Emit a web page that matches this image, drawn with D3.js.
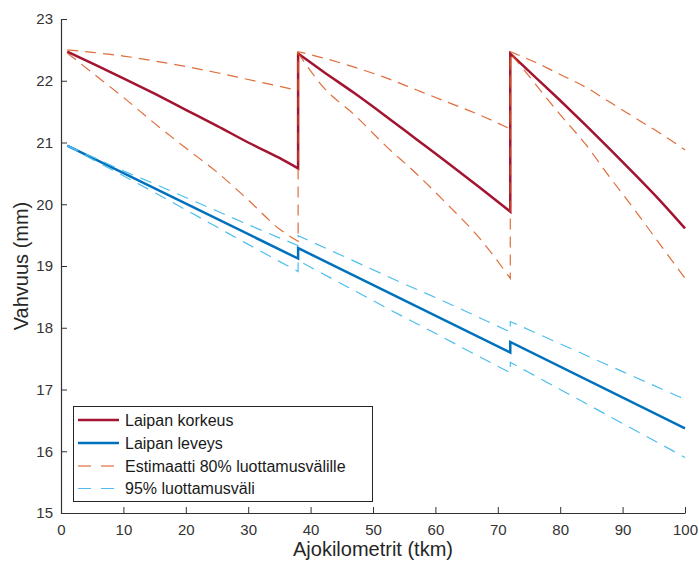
<!DOCTYPE html>
<html>
<head>
<meta charset="utf-8">
<script src="https://cdn.jsdelivr.net/npm/d3@7"></script>
<style>
  html, body { margin: 0; padding: 0; background: #fff; }
  svg { display: block; font-family: "Liberation Sans", Arial, Helvetica, sans-serif; }
</style>
</head>
<body>
<svg id="chart" width="699" height="562"></svg>
<script>
// ---- Data ----
// Laipan korkeus (solid dark red)
const kmKorkeus = [1, 5, 10, 15, 20, 25, 30, 35, 38, 38, 42, 47, 52, 57, 62, 67, 72, 72, 76, 80, 84, 88, 92, 96, 100];
const korkeus   = [22.47, 22.28, 22.04, 21.79, 21.53, 21.27, 21.00, 20.75, 20.58, 22.44, 22.15, 21.80, 21.43, 21.05, 20.67, 20.28, 19.88, 22.44, 22.06, 21.68, 21.29, 20.89, 20.48, 20.06, 19.61];

// Estimaatti 80% luottamusvälille (orange dashed, upper and lower)
const kmEst     = [1, 5, 10, 15, 20, 25, 30, 35, 38, 38, 42, 47, 52, 57, 62, 67, 72, 72, 76, 80, 84, 88, 92, 96, 100];
const estYla    = [22.50, 22.46, 22.40, 22.32, 22.23, 22.13, 22.02, 21.91, 21.84, 22.47, 22.37, 22.22, 22.05, 21.85, 21.65, 21.45, 21.22, 22.47, 22.30, 22.10, 21.90, 21.65, 21.40, 21.15, 20.88];
const estAla    = [22.45, 22.13, 21.73, 21.31, 20.91, 20.52, 20.07, 19.60, 19.40, 22.45, 21.90, 21.45, 20.95, 20.49, 19.99, 19.46, 18.80, 22.45, 21.95, 21.45, 20.98, 20.43, 19.90, 19.35, 18.80];

// Laipan leveys (solid blue)
const kmLeveys  = [1, 38, 38, 72, 72, 100];
const leveys    = [20.95, 19.12, 19.29, 17.60, 17.77, 16.37];

// 95% luottamusväli (light blue dashed, upper and lower)
const kmLuott   = [1, 5, 10, 15, 20, 25, 30, 38, 38, 45, 50, 55, 60, 65, 72, 72, 80, 90, 100];
const luottYla  = [20.95, 20.77, 20.54, 20.33, 20.11, 19.89, 19.67, 19.33, 19.49, 19.17, 18.94, 18.71, 18.49, 18.26, 17.93, 18.10, 17.74, 17.29, 16.84];
const luottAla  = [20.95, 20.73, 20.46, 20.19, 19.91, 19.63, 19.35, 18.91, 19.09, 18.71, 18.44, 18.17, 17.91, 17.64, 17.27, 17.44, 17.00, 16.45, 15.90];

const xTicks = [0, 10, 20, 30, 40, 50, 60, 70, 80, 90, 100];
const yTicks = [15, 16, 17, 18, 19, 20, 21, 22, 23];

const legendLabels = ["Laipan korkeus", "Laipan leveys", "Estimaatti 80% luottamusvälille", "95% luottamusväli"];
const xLabel = "Ajokilometrit (tkm)";
const yLabel = "Vahvuus (mm)";

// ---- Drawing ----
const svg = d3.select("#chart");
const x = d3.scaleLinear().domain([0, 100]).range([61, 685]);
const y = d3.scaleLinear().domain([15, 23]).range([513, 19]);

const RED = "#A2142F", BLUE = "#0072BD", ORANGE = "#D95319", LBLUE = "#4DBEEE";
const axisColor = "#333333";

const smooth = d3.line().x(d => x(d[0])).y(d => y(d[1])).curve(d3.curveMonotoneX);

// Build one continuous path: smooth within each segment, vertical jumps between segments
function pathFor(km, vals) {
  const segs = [];
  let cur = [];
  km.forEach((k, i) => {
    if (cur.length && cur[cur.length - 1][0] === k) { segs.push(cur); cur = []; }
    cur.push([k, vals[i]]);
  });
  if (cur.length) segs.push(cur);
  return segs.map((s, i) => {
    const d = smooth(s);
    return i === 0 ? d : "L" + d.slice(1);
  }).join("");
}

const plot = svg.append("g");
plot.append("path").attr("d", pathFor(kmKorkeus, korkeus))
  .attr("fill", "none").attr("stroke", RED).attr("stroke-width", 2.5);
plot.append("path").attr("d", pathFor(kmLeveys, leveys))
  .attr("fill", "none").attr("stroke", BLUE).attr("stroke-width", 2.5);
[estYla, estAla].forEach(v => {
  plot.append("path").attr("d", pathFor(kmEst, v))
    .attr("fill", "none").attr("stroke", ORANGE).attr("stroke-width", 1.2)
    .attr("stroke-dasharray", "11,7").attr("opacity", 0.85);
});
[luottYla, luottAla].forEach(v => {
  plot.append("path").attr("d", pathFor(kmLuott, v))
    .attr("fill", "none").attr("stroke", LBLUE).attr("stroke-width", 1.2)
    .attr("stroke-dasharray", "12,8");
});

// Axes
const gx = svg.append("g").attr("transform", "translate(0,513)")
  .call(d3.axisBottom(x).tickValues(xTicks).tickSizeInner(-6).tickSizeOuter(0).tickPadding(11));
const gy = svg.append("g").attr("transform", "translate(61,0)")
  .call(d3.axisLeft(y).tickValues(yTicks).tickSizeInner(-6).tickSizeOuter(0).tickPadding(8));
[gx, gy].forEach(g => {
  g.select(".domain").attr("stroke", axisColor).attr("stroke-width", 1.2);
  g.selectAll(".tick line").attr("stroke", axisColor).attr("stroke-width", 1);
  g.selectAll(".tick text").attr("fill", axisColor).attr("font-size", 15)
    .attr("font-family", "Liberation Sans, Arial, Helvetica, sans-serif");
});

// Axis labels
svg.append("text").attr("x", 373).attr("y", 556).attr("text-anchor", "middle")
  .attr("font-size", 20).attr("fill", "#262626").text(xLabel);
svg.append("text").attr("transform", "translate(28,266) rotate(-90)").attr("text-anchor", "middle")
  .attr("font-size", 20).attr("fill", "#262626").text(yLabel);

// Legend
const leg = svg.append("g");
leg.append("rect").attr("x", 73.5).attr("y", 406.5).attr("width", 299).attr("height", 95)
  .attr("fill", "#fff").attr("stroke", "#262626").attr("stroke-width", 1);
const legStyles = [
  { c: RED, w: 2.5, d: null },
  { c: BLUE, w: 2.5, d: null },
  { c: ORANGE, w: 1.2, d: "13,10" },
  { c: LBLUE, w: 1.2, d: "13,10" }
];
const rowY = [420, 443, 466, 488.5];
legendLabels.forEach((lab, i) => {
  const s = legStyles[i];
  const ln = leg.append("line").attr("x1", 78).attr("x2", 119).attr("y1", rowY[i]).attr("y2", rowY[i])
    .attr("stroke", s.c).attr("stroke-width", s.w);
  if (s.d) ln.attr("stroke-dasharray", s.d);
  leg.append("text").attr("x", 125).attr("y", rowY[i]).attr("dy", "0.35em")
    .attr("font-size", 16).attr("fill", "#1a1a1a").text(lab);
});
</script>
</body>
</html>
